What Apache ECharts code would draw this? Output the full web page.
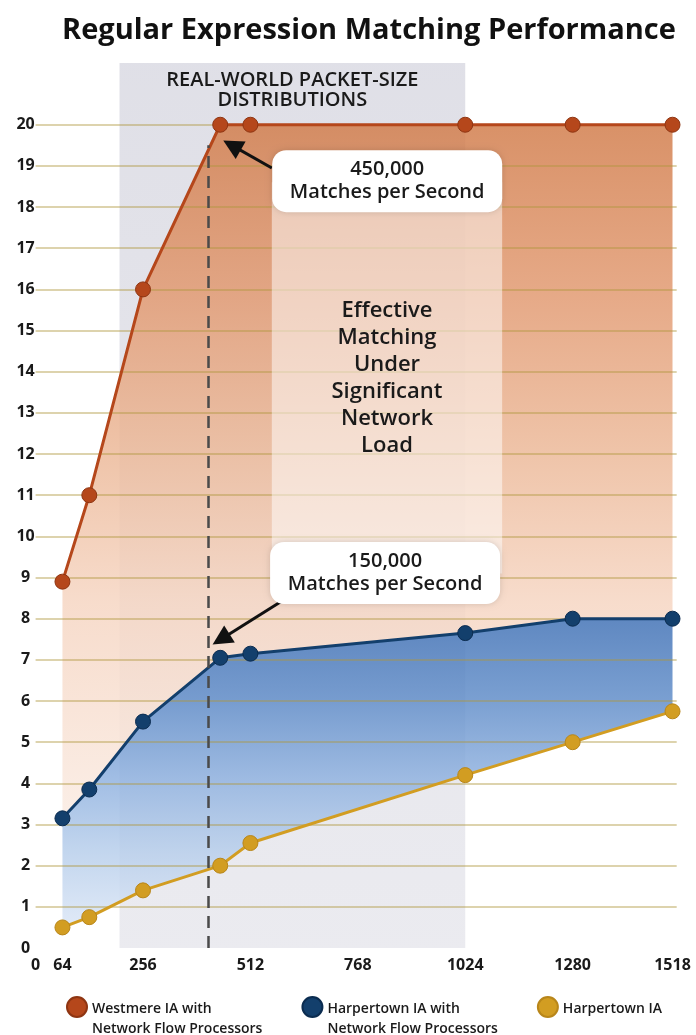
<!DOCTYPE html>
<html>
<head>
<meta charset="utf-8">
<script src="https://cdn.jsdelivr.net/npm/echarts@6/dist/echarts.min.js"></script>
<style>
  html, body { margin: 0; padding: 0; background: #ffffff; }
  #chart { width: 696px; height: 1035px; }
</style>
</head>
<body>
<div id="chart"></div>
<script>
// Packet size (bytes) on x, matching rate on y
const packetSizes    = [64, 128, 256, 440, 512, 1024, 1280, 1518];
const westmereNfp    = [8.9, 11, 16, 20, 20, 20, 20, 20];
const harpertownNfp  = [3.15, 3.85, 5.5, 7.05, 7.15, 7.65, 8.0, 8.0];
const harpertownIa   = [0.5, 0.75, 1.4, 2.0, 2.55, 4.2, 5.0, 5.75];
const xTickValues    = [0, 64, 256, 512, 768, 1024, 1280, 1518];

const seriesNames  = ['Westmere IA with Network Flow Processors', 'Harpertown IA with Network Flow Processors', 'Harpertown IA'];
const legendLabels = ['Westmere IA with\nNetwork Flow Processors', 'Harpertown IA with\nNetwork Flow Processors', 'Harpertown IA\n '];

// Annotations (data units)
const realWorldRange = [200, 1024];
const typicalPacket  = 412;
const typicalTop     = 19.5;
const noteColumn     = [[563, 18.6], [1112, 9.1]];
const callouts = [
  { text: '450,000\nMatches per Second', at: [838, 18.63], from: [563, 18.95], to: [468, 19.5] },
  { text: '150,000\nMatches per Second', at: [833, 9.11],  from: [590, 8.45],  to: [442, 7.5] }
];

const FONT = 'Open Sans';
const pts = ys => packetSizes.map((x, i) => [x, ys[i]]);

const orangeFill = new echarts.graphic.LinearGradient(0, 0, 0, 1, [
  { offset: 0, color: '#d27e4d' },
  { offset: 0.25, color: '#e29b73' },
  { offset: 0.47, color: '#ecb999' },
  { offset: 0.69, color: '#f6d6c3' },
  { offset: 1, color: '#faebe2' }
]);
const blueFill = new echarts.graphic.LinearGradient(0, 0, 0, 1, [
  { offset: 0, color: '#4373b6' },
  { offset: 0.26, color: '#628ec9' },
  { offset: 0.51, color: '#8fb1df' },
  { offset: 0.75, color: '#b7ceeb' },
  { offset: 1, color: '#dbe6f6' }
]);
const bandFill = new echarts.graphic.LinearGradient(0, 0, 0, 1, [
  { offset: 0, color: 'rgba(130,130,160,0.25)' },
  { offset: 1, color: 'rgba(130,130,160,0.16)' }
]);

const gridColors = [];
for (let i = 1; i <= 21; i++) gridColors.push(i <= 20 ? 'rgba(175,150,60,0.42)' : 'rgba(0,0,0,0)');

// filled band between two curves, projected through the chart's axes
const bandSeries = (upper, lower, fill) => ({
  type: 'custom', z: -1, silent: true,
  data: [[0, 0]],
  encode: { x: 0, y: 1 },
  renderItem: (params, api) => {
    const top = packetSizes.map((x, i) => api.coord([x, upper[i]]));
    const bottom = packetSizes.map((x, i) => api.coord([x, lower[i]])).reverse();
    return { type: 'polygon', shape: { points: top.concat(bottom) }, style: { fill, opacity: 0.85 } };
  }
});

const lineSeries = (name, data, color, border) => ({
  name, type: 'line', data: pts(data), z: 3,
  symbol: 'circle', symbolSize: 15,
  lineStyle: { color, width: 3 },
  itemStyle: { color, borderColor: border, borderWidth: 1 },
  emphasis: { disabled: true }
});

const westmere = lineSeries(seriesNames[0], westmereNfp, '#b5471b', '#8e3512');
const harperNfp = lineSeries(seriesNames[1], harpertownNfp, '#133f6c', '#0b2c50');
const harperIa = lineSeries(seriesNames[2], harpertownIa, '#d29d22', '#b8861a');

// real-world packet-size band and the typical packet marker
harperIa.markArea = {
  silent: true, z: -2,
  itemStyle: { color: bandFill },
  label: {
    show: true, position: 'insideTop', distance: 7,
    formatter: 'REAL-WORLD PACKET-SIZE\nDISTRIBUTIONS',
    fontFamily: FONT, fontSize: 20, fontWeight: 600, lineHeight: 20, color: '#1a1a1a'
  },
  data: [[{ xAxis: realWorldRange[0] }, { xAxis: realWorldRange[1] }]]
};
harperIa.markLine = {
  silent: true, z: 4, symbol: 'none',
  lineStyle: { color: '#4a4a4a', width: 2.5, type: [12, 8] },
  label: { show: false },
  data: [[{ coord: [typicalPacket, 0] }, { coord: [typicalPacket, typicalTop] }]]
};

// translucent note column with its caption
harperNfp.markArea = {
  silent: true, z: 1,
  itemStyle: { color: 'rgba(255,255,255,0.5)' },
  label: {
    show: true, position: 'inside',
    formatter: 'Effective\nMatching\nUnder\nSignificant\nNetwork\nLoad',
    fontFamily: FONT, fontSize: 22, fontWeight: 600, lineHeight: 27, color: '#1a1a1a'
  },
  data: [[{ coord: noteColumn[0] }, { coord: noteColumn[1] }]]
};
harperNfp.markLine = {
  silent: true, z: 4, symbol: ['none', 'triangle'], symbolSize: 20,
  lineStyle: { color: '#111111', width: 3, type: 'solid' },
  label: { show: false },
  data: callouts.map(c => [{ coord: c.from }, { coord: c.to }])
};

// callout boxes
westmere.markPoint = {
  silent: true, z: 5,
  symbol: 'circle', symbolSize: 1,
  itemStyle: { color: 'rgba(0,0,0,0)' },
  label: {
    show: true, position: 'inside',
    width: 230, align: 'center', padding: [8, 0],
    backgroundColor: '#ffffff', borderRadius: 14,
    shadowBlur: 6, shadowColor: 'rgba(0,0,0,0.15)',
    fontFamily: FONT, fontSize: 20, fontWeight: 600, lineHeight: 23, color: '#1a1a1a'
  },
  data: callouts.map(c => ({ coord: c.at, label: { formatter: c.text } }))
};

const option = {
  animation: false,
  backgroundColor: '#ffffff',
  title: {
    text: 'Regular Expression Matching Performance',
    left: 57, top: 11,
    textStyle: { fontFamily: FONT, fontSize: 29, fontWeight: 'bold', color: '#111111' }
  },
  grid: { left: 35.6, right: 19.3, top: 63, bottom: 87 },
  xAxis: {
    type: 'value', min: 0, max: 1528,
    axisLine: { show: false }, axisTick: { show: false }, splitLine: { show: false },
    axisLabel: {
      customValues: xTickValues, margin: 9,
      formatter: v => String(v),
      fontFamily: FONT, fontSize: 16, fontWeight: 'bold', color: '#1a1a1a'
    }
  },
  yAxis: {
    type: 'value', min: 0, max: 21.5, interval: 1,
    axisLine: { show: false }, axisTick: { show: false },
    axisLabel: {
      formatter: v => (v <= 20 ? String(v) : ''),
      align: 'center', margin: 10,
      fontFamily: FONT, fontSize: 16, fontWeight: 'bold', color: '#1a1a1a'
    },
    splitLine: { show: true, showMinLine: false, showMaxLine: false, lineStyle: { color: gridColors, width: 2 } }
  },
  legend: {
    data: seriesNames,
    left: 66, top: 975, width: 640, padding: 0,
    icon: 'circle', itemWidth: 20, itemHeight: 20, itemGap: 39,
    formatter: name => '{pad| }\n' + legendLabels[seriesNames.indexOf(name)],
    textStyle: {
      fontFamily: FONT, fontSize: 14, fontWeight: 600, color: '#1a1a1a', lineHeight: 20,
      rich: { pad: { fontSize: 10, lineHeight: 24 } }
    }
  },
  series: [
    bandSeries(harpertownNfp, harpertownIa, blueFill),
    bandSeries(westmereNfp, harpertownNfp, orangeFill),
    westmere,
    harperNfp,
    harperIa
  ]
};

const chart = echarts.init(document.getElementById('chart'), null, { renderer: 'canvas' });
chart.setOption(option);
</script>
</body>
</html>
